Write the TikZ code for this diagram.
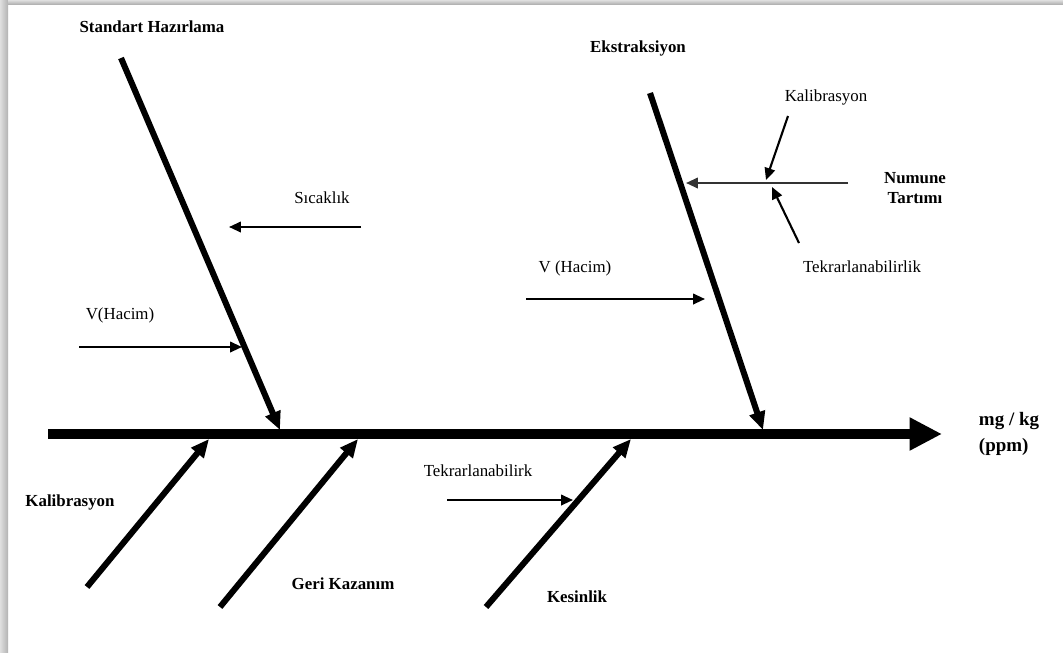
\documentclass[tikz,border=0pt]{standalone}
\usepackage{fontspec}
\setmainfont{Liberation Serif}
\usetikzlibrary{arrows.meta}
\tikzset{
    spine/.style={line width=7pt,-{Triangle[length=23pt,width=22pt]}},
    bone/.style={line width=4.3pt,-{Triangle[length=13pt,width=11pt]}},
    twig/.style={line width=1.5pt,-{Triangle[length=8.5pt,width=7.5pt]}},
    cause/.style={font=\fontsize{12}{14}\selectfont\bfseries},
    factor/.style={font=\fontsize{12}{14}\selectfont},
}
\begin{document}
\begin{tikzpicture}[x=0.025cm,y=-0.025cm]
                %% page with shadow
                \useasboundingbox (0,0) rectangle (1063,652);
                \fill[white] (0,0) rectangle (1063,652);
                \shade[left color=gray!25,right color=gray!60] (0,0) rectangle (8,652);
                \shade[top color=gray!25,bottom color=gray!60] (8,0) rectangle (1063,4);
                %% spine
                \coordinate (tail) at (48,434);
                \coordinate (effect) at (942,434);
                \draw[spine] (tail) -- (effect);
                \node[cause,font=\fontsize{13.5}{19}\selectfont\bfseries,anchor=west,align=left] (result) at (974,434) {mg / kg\\(ppm)};
                %% upper bones
                \node[cause] (standart) at (152,27) {Standart Hazırlama};
                \coordinate (sh1) at (121,58);
                \coordinate (sh2) at (280,430);
                \draw[bone] (sh1) -- (sh2);
                \node[cause] (ekstraksiyon) at (638,48) {Ekstraksiyon};
                \coordinate (ek1) at (650,93);
                \coordinate (ek2) at (763,430);
                \draw[bone] (ek1) -- (ek2);
                %% lower bones
                \node[cause] (kalibrasyon) at (70,502) {Kalibrasyon};
                \coordinate (ka1) at (87,587);
                \coordinate (ka2) at (209,439);
                \draw[bone] (ka1) -- (ka2);
                \node[cause] (geri) at (343,584) {Geri Kazanım};
                \coordinate (gk1) at (220,607);
                \coordinate (gk2) at (358,439);
                \draw[bone] (gk1) -- (gk2);
                \node[cause] (kesinlik) at (577,597) {Kesinlik};
                \coordinate (ke1) at (486,607);
                \coordinate (ke2) at (631,439);
                \draw[bone] (ke1) -- (ke2);
                %% small causes
                \node[factor] (sicaklik) at (322,198) {Sıcaklık};
                \coordinate (sc1) at (361,227);
                \coordinate (sc2) at (229,227);
                \draw[twig] (sc1) -- (sc2);
                \node[factor] (hacimA) at (120,315) {V(Hacim)};
                \coordinate (va1) at (79,347);
                \coordinate (va2) at (242,347);
                \draw[twig] (va1) -- (va2);
                \node[factor] (hacimB) at (575,268) {V (Hacim)};
                \coordinate (vb1) at (526,299);
                \coordinate (vb2) at (705,299);
                \draw[twig] (vb1) -- (vb2);
                \node[factor] (tekrarA) at (478,471) {Tekrarlanabilirk};
                \coordinate (ta1) at (447,500);
                \coordinate (ta2) at (573,500);
                \draw[twig] (ta1) -- (ta2);
                %% numune tartimi
                \node[cause,align=center] (numune) at (915,188) {Numune\\Tartımı};
                \coordinate (nt1) at (848,183);
                \coordinate (nt2) at (686,183);
                \draw[twig,black!80] (nt1) -- (nt2);
                \node[factor] (kalib) at (826,97) {Kalibrasyon};
                \coordinate (kb1) at (788,116);
                \coordinate (kb2) at (766,180);
                \draw[twig] (kb1) -- (kb2);
                \node[factor] (tekrarB) at (862,267) {Tekrarlanabilirlik};
                \coordinate (tb1) at (799,243);
                \coordinate (tb2) at (772,187);
                \draw[twig] (tb1) -- (tb2);
            \end{tikzpicture}
\end{document}
